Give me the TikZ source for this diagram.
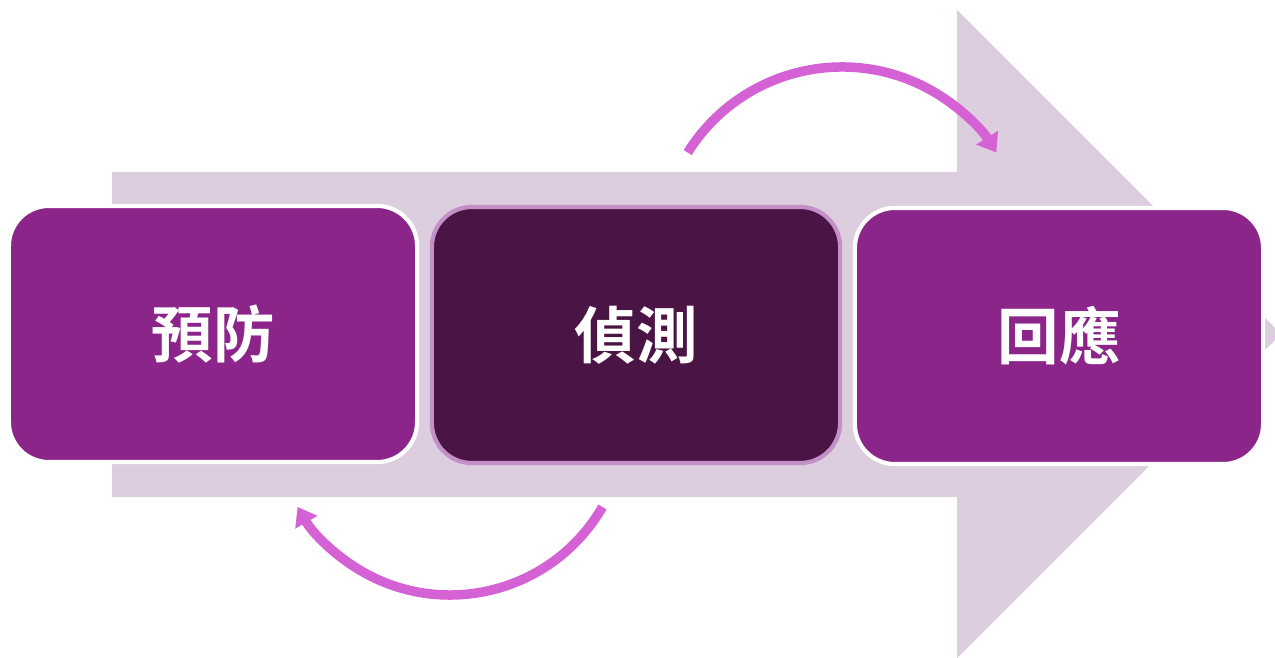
\documentclass[tikz,border=0pt]{standalone}
\usepackage{fontspec}
\newfontfamily\cjk{Noto Sans CJK TC}[BoldFont={Noto Sans CJK TC Bold}]
\usetikzlibrary{arrows.meta}
\definecolor{bgarrow}{HTML}{DCCEDE}
\definecolor{stagefill}{HTML}{8B2589}
\definecolor{activefill}{HTML}{4A1445}
\definecolor{activeline}{HTML}{C490C8}
\definecolor{loopline}{HTML}{D462D4}
\tikzset{
  stage/.style={draw=white,line width=1.2pt,fill=stagefill,rounded corners=0.4cm,
    minimum width=4.08cm,minimum height=2.56cm,text=white,
    font=\cjk\bfseries\fontsize{17.5}{20}\selectfont},
  activestage/.style={stage,draw=activeline,fill=activefill},
  loop/.style={loopline,line width=2.7pt,-{Triangle[width=7pt,length=5pt]}}
}
\begin{document}
\begin{tikzpicture}[x=0.01cm,y=-0.01cm]
  \useasboundingbox (0,0) rectangle (1275,658);
  \fill[bgarrow] (112,172) -- (957,172) -- (957,10) -- (1281,334) -- (957,658) -- (957,497) -- (112,497) -- cycle;
  \node[stage] (prevent) at (213,334) {預防};
  \node[activestage] (detect) at (636,335) {偵測};
  \node[stage] (respond) at (1059,336) {回應};
  \path (842,249) coordinate (topc) (450,419) coordinate (botc);
  \draw[loop] ([shift={(212:182)}]topc) arc (212:328:182);
  \draw[loop] ([shift={(30:176)}]botc) arc (30:150:176);
\end{tikzpicture}
\end{document}
